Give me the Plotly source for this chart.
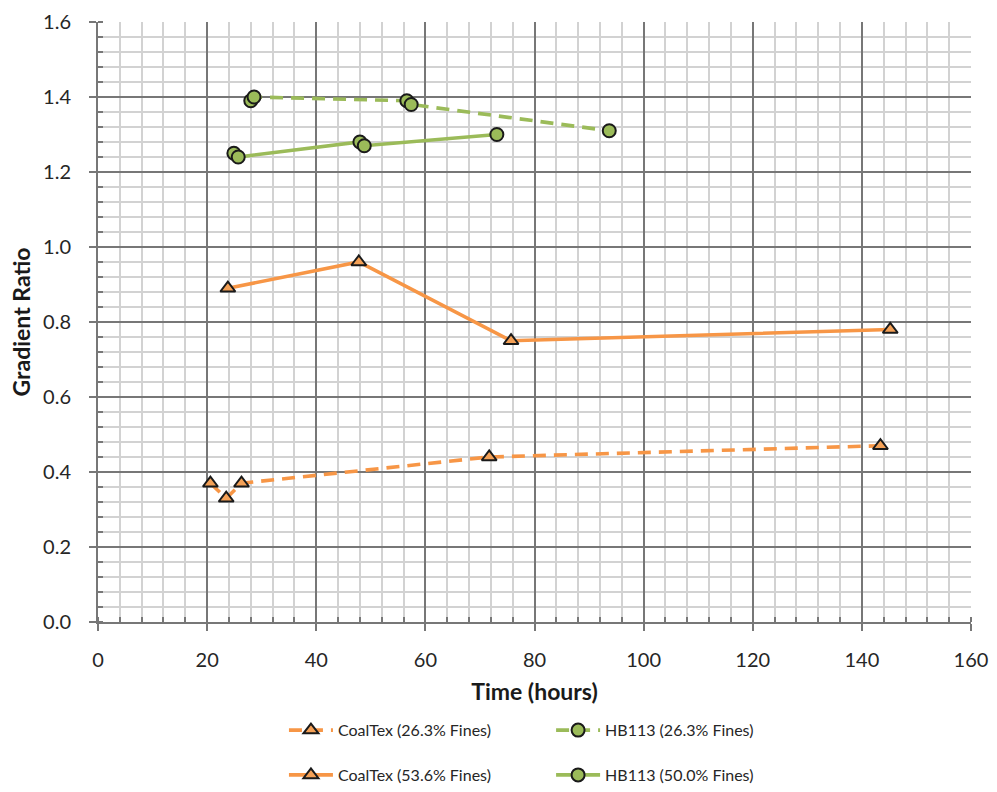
import plotly.graph_objects as go

# Data
ct26_x = [20.6, 23.5, 26.3, 71.7, 143.4]
ct26_y = [0.37, 0.33, 0.37, 0.44, 0.47]

ct53_x = [23.8, 47.8, 75.7, 145.2]
ct53_y = [0.89, 0.96, 0.75, 0.78]

hb26_x = [28.0, 28.6, 56.6, 57.4, 93.7]
hb26_y = [1.39, 1.40, 1.39, 1.38, 1.31]

hb50_x = [24.9, 25.7, 48.0, 48.8, 73.1]
hb50_y = [1.25, 1.24, 1.28, 1.27, 1.30]

names = ["CoalTex (26.3% Fines)", "CoalTex (53.6% Fines)",
         "HB113 (26.3% Fines)", "HB113 (50.0% Fines)"]

ORANGE = "#F79646"
ORANGE_FILL = "#F4A157"
GREEN = "#9BBB59"
GREEN_FILL = "#9BBB59"
FONT = "Lato"
DASH = "13px,8px"

fig = go.Figure()

def add(x, y, name, color, fill, symbol, dash, legend, group, size):
    fig.add_trace(go.Scatter(
        x=x, y=y, name=name, mode="lines+markers",
        line=dict(color=color, width=3.6, dash=dash),
        marker=dict(symbol=symbol, size=size, color=fill,
                    line=dict(color="#1a1a1a", width=2)),
        legend=legend, legendgroup=group,
    ))

add(ct26_x, ct26_y, names[0], ORANGE, ORANGE_FILL, "triangle-up", DASH, "legend", "a", 13)
add(ct53_x, ct53_y, names[1], ORANGE, ORANGE_FILL, "triangle-up", "solid", "legend", "b", 13)
add(hb26_x, hb26_y, names[2], GREEN, GREEN_FILL, "circle", DASH, "legend2", "c", 13)
add(hb50_x, hb50_y, names[3], GREEN, GREEN_FILL, "circle", "solid", "legend2", "d", 13)

MAJOR = "#777777"
MINOR = "#d2d2d2"

legend_common = dict(xanchor="left", yanchor="top", xref="paper", yref="container",
                     orientation="v", itemwidth=44, tracegroupgap=21,
                     font=dict(size=16, family=FONT, color="#262626"),
                     bgcolor="rgba(0,0,0,0)")

fig.update_layout(
    width=997, height=792,
    margin=dict(l=98, r=26, t=22, b=170),
    paper_bgcolor="white", plot_bgcolor="white",
    font=dict(family=FONT, color="#1a1a1a"),
    showlegend=True,
    legend=dict(x=0.213, y=0.0995, **legend_common),
    legend2=dict(x=0.519, y=0.0995, **legend_common),
)

fig.update_xaxes(
    range=[0, 160], dtick=20, tick0=0,
    showgrid=True, gridcolor=MAJOR, gridwidth=2,
    showline=True, linecolor=MAJOR, linewidth=2, mirror=False,
    ticks="outside", ticklen=7, tickcolor=MAJOR, tickwidth=2,
    ticklabelstandoff=12,
    tickfont=dict(size=20, family=FONT, color="#262626"),
    zeroline=False, automargin=False,
    minor=dict(dtick=4, showgrid=True, gridcolor=MINOR, gridwidth=1.5,
               ticks="inside", ticklen=5, tickcolor=MAJOR, tickwidth=1.5),
    title=dict(text="<b>Time (hours)</b>", font=dict(size=23, family=FONT), standoff=14),
)
fig.update_yaxes(
    range=[0, 1.6], dtick=0.2, tick0=0, tickformat=".1f",
    showgrid=True, gridcolor=MAJOR, gridwidth=2,
    showline=True, linecolor=MAJOR, linewidth=2,
    ticks="outside", ticklen=7, tickcolor=MAJOR, tickwidth=2,
    ticklabelstandoff=14,
    tickfont=dict(size=20, family=FONT, color="#262626"),
    zeroline=False, automargin=False,
    minor=dict(dtick=0.04, showgrid=True, gridcolor=MINOR, gridwidth=1.5,
               ticks="inside", ticklen=5, tickcolor=MAJOR, tickwidth=1.5),
    title=dict(text="<b>Gradient Ratio</b>", font=dict(size=23, family=FONT), standoff=6),
)

fig.write_html("out.html",
               config={"displayModeBar": False},
               post_script="document.body.style.margin='0';document.body.style.overflow='hidden';")
